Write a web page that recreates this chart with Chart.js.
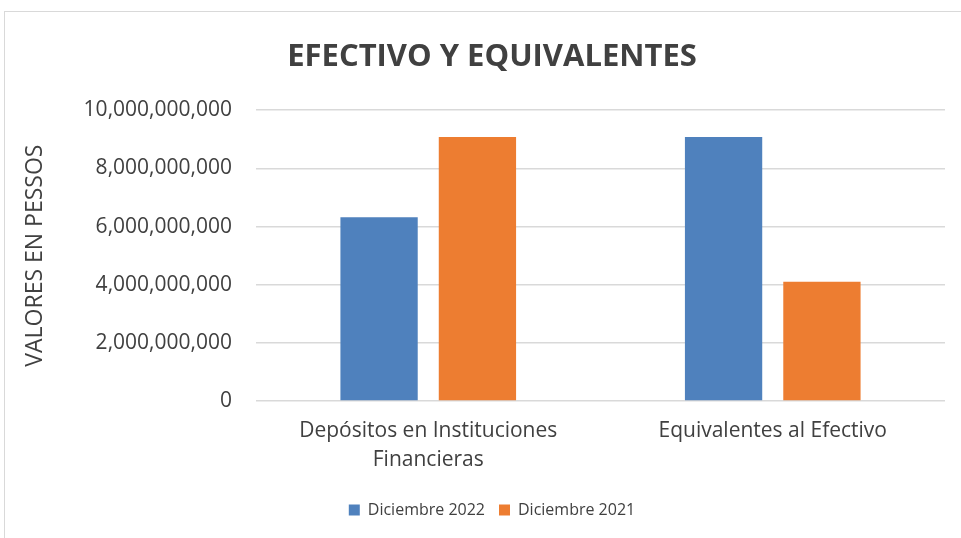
<!DOCTYPE html>
<html lang="es">
<head>
    <meta charset="UTF-8">
    <script src="https://cdn.jsdelivr.net/npm/chart.js@4.4.0/dist/chart.umd.min.js"></script>
    <title>Efectivo y Equivalentes</title>
    <style>
        body { margin: 0; background: #fff; overflow: hidden; }
        #frame { position: absolute; left: 4px; top: 11px; width: 1000px; height: 1000px; border: 1px solid #d9d9d9; }
        #wrap { position: absolute; left: 0; top: 0; width: 985px; height: 538px; }
    </style>
</head>
<body>
<div id="frame"></div>
<div id="wrap"><canvas id="container"></canvas></div>

<script>
    const categories = [['Depósitos en Instituciones', 'Financieras'], 'Equivalentes al Efectivo'];
    const seriesNames = ['Diciembre 2022', 'Diciembre 2021'];
    const dic2022 = [6320000000, 9080000000];
    const dic2021 = [9080000000, 4100000000];
    const yTicks = [0, 2000000000, 4000000000, 6000000000, 8000000000, 10000000000];

    const textColor = '#404040';
    const font = "'Open Sans', 'Liberation Sans', sans-serif";

    const ctx = document.getElementById('container').getContext('2d');

    new Chart(ctx, {
        type: 'bar',
        data: {
            labels: categories,
            datasets: [
                { label: seriesNames[0], data: dic2022, backgroundColor: '#4f81bd' },
                { label: seriesNames[1], data: dic2021, backgroundColor: '#ed7d31' }
            ]
        },
        options: {
            responsive: true,
            maintainAspectRatio: false,
            animation: false,
            // left padding also centres the title/legend like the Excel frame
            layout: { padding: { left: 39, right: 40, top: 0, bottom: 10 } },
            datasets: {
                bar: { categoryPercentage: 0.571, barPercentage: 0.786 }
            },
            plugins: {
                title: {
                    display: true,
                    text: 'EFECTIVO Y EQUIVALENTES',
                    color: textColor,
                    font: { family: font, size: 31, weight: 'bold' },
                    padding: { top: 39, bottom: 34 }
                },
                legend: {
                    position: 'bottom',
                    labels: {
                        color: textColor,
                        font: { family: font, size: 16 },
                        boxWidth: 11,
                        boxHeight: 11,
                        padding: 14
                    }
                },
                tooltip: { enabled: false }
            },
            scales: {
                x: {
                    grid: { display: false, drawTicks: false },
                    border: { display: false },
                    ticks: {
                        color: textColor,
                        font: { family: font, size: 21, lineHeight: 1.35 },
                        padding: 16,
                        maxRotation: 0
                    },
                    afterFit: (axis) => { axis.height = 87; }
                },
                y: {
                    min: 0,
                    max: 10000000000,
                    afterBuildTicks: (axis) => { axis.ticks = yTicks.map(v => ({ value: v })); },
                    grid: { color: '#d9d9d9', lineWidth: 1.5, drawTicks: false },
                    border: { display: false },
                    ticks: {
                        color: textColor,
                        font: { family: font, size: 21 },
                        padding: 24,
                        callback: (v) => v.toLocaleString('en-US')
                    },
                    title: {
                        display: true,
                        text: 'VALORES EN PESSOS',
                        color: textColor,
                        font: { family: font, size: 23 },
                        padding: { top: -17, bottom: 0 }
                    },
                    afterFit: (axis) => { axis.width = 217; }
                }
            }
        }
    });
</script>
</body>
</html>
